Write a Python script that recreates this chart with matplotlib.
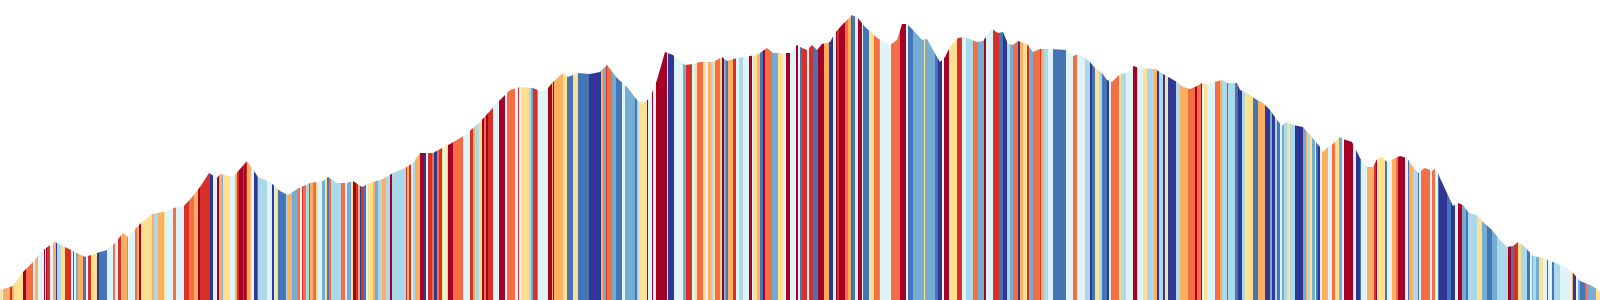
import matplotlib
matplotlib.use("Agg")
import matplotlib.pyplot as plt
from matplotlib.patches import Polygon
import numpy as np

# perfil de altura (px desde abajo)
profile_x = [0, 13, 23, 33, 43, 55, 67, 85, 97, 107, 115, 123, 128, 140, 152, 163, 177, 183, 193, 200,
             209, 217, 220, 233, 247, 258, 270, 280, 288, 297, 310, 323, 328, 337, 347, 353, 362, 370, 383, 393,
             405, 413, 420, 433, 442, 450, 462, 472, 478, 490, 498, 505, 510, 520, 533, 542, 548, 553, 563, 568,
             578, 590, 600, 607, 617, 627, 637, 643, 650, 657, 665, 673, 685, 693, 700, 713, 722, 727, 737, 750,
             757, 767, 773, 790, 797, 802, 807, 812, 817, 822, 830, 835, 842, 852, 858, 865, 872, 877, 883, 890,
             897, 902, 907, 913, 922, 927, 933, 940, 945, 950, 958, 965, 977, 983, 992, 998, 1003, 1008, 1013, 1018,
             1027, 1033, 1040, 1050, 1067, 1073, 1078, 1085, 1090, 1095, 1102, 1107, 1112, 1120, 1128, 1133, 1140, 1155, 1163, 1170,
             1177, 1183, 1190, 1197, 1202, 1207, 1222, 1227, 1237, 1240, 1247, 1257, 1263, 1270, 1277, 1282, 1286, 1293, 1303, 1310,
             1320, 1323, 1327, 1333, 1340, 1343, 1352, 1357, 1360, 1367, 1373, 1377, 1382, 1388, 1393, 1400, 1407, 1413, 1418, 1425,
             1432, 1436, 1440, 1447, 1453, 1458, 1463, 1468, 1473, 1478, 1483, 1492, 1500, 1507, 1513, 1518, 1525, 1533, 1543, 1553,
             1567, 1573, 1580, 1590, 1597, 1600]
profile_top = [290, 286, 272, 262, 250, 242, 248, 257, 253, 250, 243, 233, 237, 224, 214, 212, 207, 207, 196, 187,
               173, 178, 174, 177, 161, 177, 182, 191, 195, 189, 183, 181, 177, 183, 183, 181, 187, 183, 179, 173,
               168, 163, 153, 153, 148, 144, 137, 129, 124, 111, 102, 95, 90, 87, 88, 92, 88, 82, 73, 77,
               73, 74, 72, 65, 78, 87, 100, 103, 98, 80, 52, 55, 65, 64, 62, 62, 57, 61, 58, 56,
               55, 48, 53, 53, 45, 48, 50, 45, 50, 44, 42, 33, 25, 15, 18, 27, 33, 38, 41, 45,
               40, 24, 24, 30, 40, 39, 50, 62, 57, 47, 38, 37, 42, 41, 29, 33, 32, 44, 45, 41,
               44, 52, 49, 49, 50, 56, 54, 58, 62, 68, 73, 80, 82, 74, 73, 66, 68, 69, 74, 78,
               82, 87, 89, 86, 83, 84, 80, 83, 83, 90, 93, 100, 103, 110, 120, 126, 122, 125, 127, 135,
               147, 152, 148, 144, 137, 139, 142, 152, 158, 167, 167, 159, 157, 163, 159, 156, 158, 167, 173, 168,
               171, 168, 178, 193, 206, 203, 205, 212, 214, 216, 222, 230, 240, 247, 246, 242, 247, 256, 258, 262,
               268, 273, 281, 285, 289, 292]
profile_h = [300 - y for y in profile_top]

# franjas: inicio (px) y clase de color (0 = frio ... 9 = caliente)
stripe_start = [0, 2, 3, 10, 12, 14, 23, 26, 33, 35, 38, 44, 45, 46, 47, 50, 53, 56, 57, 61,
                65, 71, 73, 74, 76, 78, 83, 86, 88, 91, 97, 99, 107, 113, 115, 118, 121, 127, 128, 135,
                137, 139, 141, 152, 154, 158, 164, 165, 173, 176, 184, 189, 194, 198, 200, 210, 213, 217, 219, 222,
                223, 230, 235, 237, 239, 243, 244, 246, 247, 251, 254, 257, 258,
                260, 267, 272, 274, 275, 278, 286, 287, 292, 298, 300, 302, 303, 306, 309, 310, 313, 316, 318, 322,
                325, 327, 329, 331, 341, 345, 347, 351, 353, 356, 358, 360, 361, 363, 366, 368, 373, 375, 378, 382,
                386, 390, 392, 406, 407, 409, 411, 413, 415, 420, 424, 426, 428, 432, 434, 437, 439, 442, 443, 446,
                448, 453, 463, 470, 473, 475, 479, 482, 484, 486, 488, 493, 499, 505, 507, 515, 518, 519, 521,
                529, 531, 533, 537, 538, 548, 552, 553, 554, 563, 567, 573, 578, 589, 601, 603, 606, 607, 612, 616,
                622, 625, 635, 637, 639, 647, 648, 652, 653, 656, 667, 668, 674, 683, 686, 692, 695, 697, 703, 706,
                708, 711, 713, 715, 720, 722, 724, 726, 728, 733, 736, 739, 743, 749, 752, 753, 757, 760, 763, 765,
                772, 778,
                780, 783, 786, 790, 796, 798, 800, 802, 807, 809, 813, 818, 824, 829, 833, 836, 837, 839, 845, 848,
                851, 852, 855, 858, 862, 863, 869, 874, 879, 880, 891, 900, 906, 908, 913, 924, 925, 935, 938, 942,
                944, 949, 957, 962, 966, 973, 978, 984, 986, 993, 999, 1003, 1007, 1010, 1013, 1018, 1020, 1023, 1027, 1029,
                1033, 1040, 1041, 1044, 1048, 1053, 1066, 1073, 1077, 1085, 1090, 1092, 1095, 1099, 1102, 1107, 1109, 1111, 1119, 1121,
                1126, 1133, 1137, 1138, 1143, 1147, 1154, 1157, 1159, 1163, 1165, 1168, 1176, 1180, 1188, 1195, 1197, 1201, 1202, 1204,
                1207, 1215, 1220, 1222, 1227, 1228, 1235, 1238, 1242, 1245, 1253, 1258, 1265, 1270, 1272, 1275, 1277, 1280, 1282, 1284,
                1287, 1290, 1295, 1303, 1306, 1307,
                1310, 1312, 1315, 1316, 1318, 1320, 1322, 1328, 1332, 1335, 1339, 1342, 1344, 1353, 1356, 1360, 1361, 1367, 1374, 1376,
                1377, 1378, 1385, 1387, 1392, 1396, 1398, 1405, 1408, 1409, 1413, 1418, 1419, 1421, 1430, 1432, 1435, 1438, 1439, 1447,
                1451, 1455, 1458, 1462, 1466, 1468, 1477, 1482, 1487, 1492, 1497, 1508, 1511, 1514, 1518, 1521, 1527, 1530, 1532, 1533,
                1536, 1539, 1543, 1547, 1548, 1552, 1554, 1560, 1572, 1573, 1576, 1578, 1580, 1585, 1587, 1596]
stripe_level = [5, 4, 6, 8, 6, 5, 9, 7, 4, 6, 4, 9, 4, 9, 8, 4, 6, 0, 3, 5,
                8, 4, 8, 4, 2, 6, 1, 4, 8, 5, 0, 1, 4, 7, 4, 8, 6, 2, 4, 7,
                6, 9, 5, 6, 3, 6, 5, 4, 7, 4, 8, 7, 6, 9, 8, 0, 4, 9, 6, 2,
                5, 4, 6, 8, 9, 8, 9, 8, 6, 4, 0, 1, 3,
                3, 4, 0, 4, 5, 1, 3, 6, 2, 7, 4, 8, 7, 3, 1, 6, 7, 5, 4, 2,
                5, 1, 7, 3, 7, 4, 2, 5, 9, 8, 6, 0, 8, 1, 4, 5, 6, 2, 3, 6,
                3, 9, 3, 8, 6, 8, 4, 3, 6, 9, 0, 4, 8, 7, 0, 7, 8, 5, 4, 5,
                9, 7, 4, 8, 6, 3, 5, 9, 7, 9, 8, 4, 9, 4, 7, 4, 8, 4, 5,
                3, 2, 8, 7, 4, 9, 6, 9, 6, 5, 1, 5, 1, 0, 6, 2, 8, 7, 2, 1,
                4, 2, 1, 3, 5, 9, 4, 9, 4, 9, 4, 0, 4, 2, 8, 4, 5, 7, 5, 4,
                6, 3, 5, 7, 5, 9, 2, 1, 6, 8, 4, 3, 4, 9, 4, 5, 6, 1, 9, 7,
                2, 5,
                5, 4, 9, 4, 9, 4, 1, 8, 4, 8, 1, 9, 6, 0, 4, 9, 8, 9, 7, 6,
                8, 1, 4, 9, 4, 1, 5, 7, 2, 4, 7, 9, 4, 1, 2, 5, 2, 1, 0, 4,
                9, 5, 8, 4, 3, 7, 2, 9, 4, 8, 1, 0, 3, 2, 7, 0, 6, 5, 8, 2,
                7, 8, 6, 3, 4, 1, 4, 7, 4, 3, 0, 1, 5, 3, 1, 0, 4, 7, 5, 3,
                4, 9, 3, 4, 5, 3, 6, 0, 3, 0, 5, 0, 3, 6, 7, 9, 7, 9, 4, 5,
                4, 7, 6, 3, 1, 3, 1, 0, 3, 5, 1, 6, 0, 2, 0, 3, 1, 4, 2, 3,
                5, 3, 0, 2, 6, 3,
                5, 2, 4, 1, 0, 4, 6, 4, 7, 5, 2, 4, 9, 4, 0, 1, 4, 6, 8, 9,
                4, 5, 1, 4, 6, 7, 9, 4, 1, 6, 3, 1, 4, 7, 4, 7, 4, 1, 0, 1,
                0, 4, 9, 2, 1, 3, 5, 2, 1, 2, 3, 9, 1, 8, 5, 3, 1, 4, 2, 3,
                2, 5, 4, 8, 4, 1, 3, 4, 6, 0, 4, 2, 1, 7, 2, 5]

palette = ["#313695", "#4575b4", "#74add1", "#abd9e9", "#e0f3f8",
           "#fee090", "#fdae61", "#f46d43", "#d73027", "#a50026"]

fig = plt.figure(figsize=(16, 3), dpi=100)
ax = fig.add_axes([0, 0, 1, 1])
ax.set_xlim(0, 1600)
ax.set_ylim(0, 300)
ax.axis("off")

# silueta del perfil, usada como mascara de las franjas
outline = list(zip(profile_x, profile_h)) + [(profile_x[-1], 0), (profile_x[0], 0)]
mask = Polygon(outline, closed=True, facecolor="none", edgecolor="none")
ax.add_patch(mask)

edges = stripe_start + [1600]
widths = np.diff(edges)
colors = [palette[c] for c in stripe_level]
bars = ax.bar(stripe_start, max(profile_h), width=widths, align="edge",
              color=colors, linewidth=0, antialiased=False)
for b in bars:
    b.set_clip_path(mask)

plt.savefig("out.png", dpi=100)
